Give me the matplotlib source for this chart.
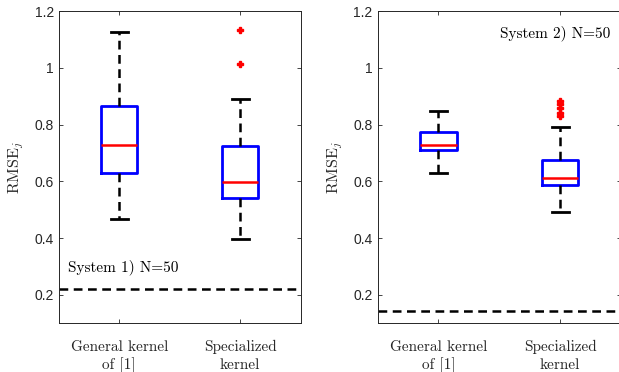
import matplotlib
matplotlib.use("Agg")
import matplotlib.pyplot as plt

plt.rcParams['mathtext.fontset'] = 'cm'
plt.rcParams['axes.unicode_minus'] = False

# box statistics (whisker low, q1, median, q3, whisker high)
labels = ['General kernel\nof [1]', 'Specialized\nkernel']

sys1_gen = [0.468, 0.630, 0.730, 0.865, 1.125]
sys1_spec = [0.398, 0.541, 0.597, 0.724, 0.891]
sys1_spec_out = [1.014, 1.135]
sys1_ref = 0.222

sys2_gen = [0.628, 0.709, 0.730, 0.773, 0.847]
sys2_spec = [0.492, 0.588, 0.613, 0.675, 0.790]
sys2_spec_out = [0.830, 0.842, 0.857, 0.874, 0.884]
sys2_ref = 0.143

yticks = [0.2, 0.4, 0.6, 0.8, 1.0, 1.2]
ytick_labels = ['0.2', '0.4', '0.6', '0.8', '1', '1.2']

dark = '#262626'
serif = 'cmr10'


def stats(vals, fliers, label):
    lo, q1, med, q3, hi = vals
    return dict(whislo=lo, q1=q1, med=med, q3=q3, whishi=hi, fliers=fliers, label=label)


def panel(ax, gen, spec, spec_out, ref, note, note_xy, note_ha):
    bs = [stats(gen, [], labels[0]), stats(spec, spec_out, labels[1])]
    ax.bxp(bs, positions=[1, 2], widths=0.3, showfliers=True,
           boxprops=dict(color='blue', linewidth=2.0),
           medianprops=dict(color='red', linewidth=1.8),
           whiskerprops=dict(color='black', linewidth=1.8, linestyle=(0, (3.5, 2.2))),
           capprops=dict(color='black', linewidth=2.0),
           capwidths=0.14,
           flierprops=dict(marker='P', markerfacecolor='red', markeredgecolor='red',
                           markersize=5, linestyle='none'))
    ax.axhline(ref, color='black', linewidth=1.8, linestyle=(0, (3.5, 2.2)))
    ax.set_xlim(0.5, 2.5)
    ax.set_ylim(0.1, 1.2)
    ax.set_yticks(yticks)
    ax.set_yticklabels(ytick_labels, fontfamily='Liberation Sans', fontsize=10, color=dark)
    ax.set_xticks([1, 2])
    ax.set_xticklabels(labels, fontfamily=serif, fontsize=11, color=dark, linespacing=1.35)
    ax.tick_params(direction='in', top=True, right=True, length=3, width=0.6, colors=dark)
    ax.tick_params(axis='x', pad=12)
    for s in ax.spines.values():
        s.set_color(dark)
        s.set_linewidth(0.7)
    ax.set_ylabel(r'$\mathrm{RMSE}_j$', fontsize=11.5, color=dark, labelpad=6)
    ax.text(note_xy[0], note_xy[1], note, fontfamily=serif, fontsize=11,
            ha=note_ha, va='center', color='black')


fig = plt.figure(figsize=(6.19, 3.72), dpi=100)
ax1 = fig.add_axes([0.0948, 0.131, 0.391, 0.839])
ax2 = fig.add_axes([0.610, 0.131, 0.393, 0.839])

panel(ax1, sys1_gen, sys1_spec, sys1_spec_out, sys1_ref, 'System 1) N=50', (0.58, 0.297), 'left')
panel(ax2, sys2_gen, sys2_spec, sys2_spec_out, sys2_ref, 'System 2) N=50', (2.41, 1.124), 'right')

fig.savefig('out.png', dpi=100)
